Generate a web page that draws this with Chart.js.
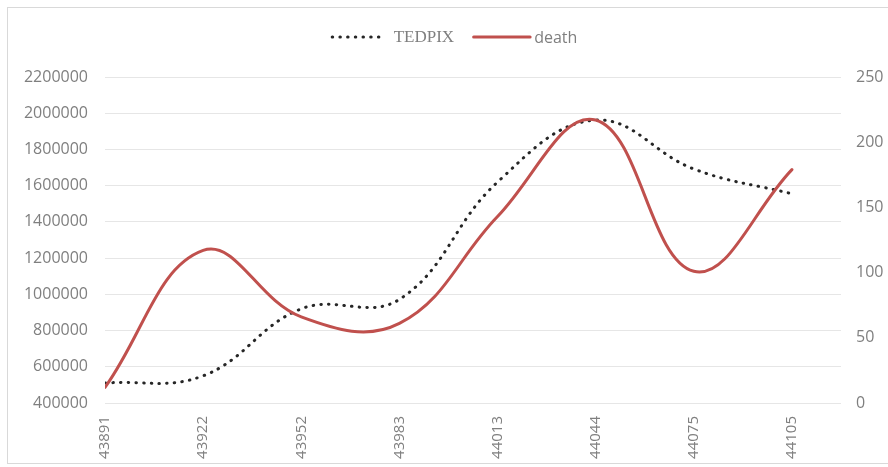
<!DOCTYPE html>
<html>
<head>
<meta charset="utf-8">
<script src="https://cdn.jsdelivr.net/npm/chart.js@4.4.1/dist/chart.umd.min.js"></script>
<style>
  html, body { margin: 0; padding: 0; background: #ffffff; overflow: hidden; }
  #frame { position: absolute; left: 7px; top: 7px; width: 892px; height: 455px; border: 1px solid #d9d9d9; background: #fff; }
</style>
</head>
<body>
<div id="frame"><canvas id="chart"></canvas></div>
<script>
// Month keys (spreadsheet serial dates) along the bottom axis
const categories = ['43891', '43922', '43952', '43983', '44013', '44044', '44075', '44105'];
// TEDPIX index level (left axis)
const tedpix = [510000, 550000, 920000, 972000, 1620000, 1962000, 1692000, 1555000];
// Deaths (right axis)
const death = [12, 117, 66, 61, 143, 217, 101, 179];
// Axis tick values
const leftTicks = [400000, 600000, 800000, 1000000, 1200000, 1400000, 1600000, 1800000, 2000000, 2200000];
const rightTicks = [0, 50, 100, 150, 200, 250];

const tickFont = { family: '"Open Sans", "Liberation Sans", sans-serif', size: 16 };
const tickColor = '#7f7f7f';
const legendFonts = ['17px "Liberation Serif", serif', '16px "Open Sans", sans-serif'];

// Legend drawn as line samples above the plot, centred on the canvas
const lineLegend = {
  id: 'lineLegend',
  afterDraw(chart) {
    const ctx = chart.ctx;
    const y = 29;
    const samples = [52, 58];
    const gaps = [11, 4];
    const spacing = 18;
    const items = chart.data.datasets.map((ds, i) => {
      ctx.font = legendFonts[i];
      return { ds, font: legendFonts[i], sample: samples[i], gap: gaps[i], tw: ctx.measureText(ds.label).width };
    });
    let total = 0;
    items.forEach((it, i) => { total += it.sample + it.gap + it.tw + (i < items.length - 1 ? spacing : 0); });
    let x = chart.width / 2 - total / 2;
    ctx.save();
    items.forEach(it => {
      ctx.beginPath();
      ctx.strokeStyle = it.ds.borderColor;
      ctx.lineWidth = it.ds.borderWidth;
      ctx.lineCap = it.ds.borderCapStyle || 'butt';
      ctx.setLineDash(it.ds.borderDash || []);
      ctx.moveTo(x + 1.5, y);
      ctx.lineTo(x + it.sample, y);
      ctx.stroke();
      ctx.setLineDash([]);
      ctx.font = it.font;
      ctx.fillStyle = tickColor;
      ctx.textBaseline = 'middle';
      ctx.textAlign = 'left';
      ctx.fillText(it.ds.label, x + it.sample + it.gap, y + 1);
      x += it.sample + it.gap + it.tw + spacing;
    });
    ctx.restore();
  }
};

new Chart(document.getElementById('chart'), {
  type: 'line',
  data: {
    datasets: [
      {
        label: 'TEDPIX',
        data: tedpix.map((v, i) => ({ x: i, y: v })),
        yAxisID: 'y',
        borderColor: '#262626',
        borderWidth: 3,
        borderDash: [0.5, 7.2],
        borderCapStyle: 'round',
        pointRadius: 0,
        tension: 0.4,
        fill: false,
        order: 1
      },
      {
        label: 'death',
        data: death.map((v, i) => ({ x: i, y: v })),
        yAxisID: 'y1',
        borderColor: '#c0504d',
        borderWidth: 3,
        borderCapStyle: 'round',
        pointRadius: 0,
        tension: 0.4,
        fill: false,
        order: 0
      }
    ]
  },
  options: {
    responsive: true,
    maintainAspectRatio: false,
    animation: false,
    layout: { padding: { top: 69, left: 0, right: 0, bottom: 0 } },
    plugins: { legend: { display: false }, tooltip: { enabled: false } },
    scales: {
      x: {
        type: 'linear',
        min: 0,
        max: 7.5,
        afterBuildTicks: s => { s.ticks = categories.map((_, i) => ({ value: i })); },
        afterFit: s => { s.height = 60; },
        ticks: {
          callback: v => categories[v],
          autoSkip: false,
          minRotation: 90,
          maxRotation: 90,
          padding: 5,
          font: { family: tickFont.family, size: 15 },
          color: tickColor
        },
        grid: { display: false },
        border: { display: false }
      },
      y: {
        position: 'left',
        min: 400000,
        max: 2200000,
        afterBuildTicks: s => { s.ticks = leftTicks.map(v => ({ value: v })); },
        afterFit: s => { s.width = 97; },
        ticks: { callback: v => String(v), padding: 17, font: tickFont, color: tickColor },
        grid: { color: '#e6e6e6', lineWidth: 1, drawTicks: false },
        border: { display: false }
      },
      y1: {
        position: 'right',
        min: 0,
        max: 250,
        afterBuildTicks: s => { s.ticks = rightTicks.map(v => ({ value: v })); },
        afterFit: s => { s.width = 59; },
        ticks: { callback: v => String(v), padding: 15, font: tickFont, color: tickColor },
        grid: { drawOnChartArea: false, drawTicks: false },
        border: { display: false }
      }
    }
  },
  plugins: [lineLegend]
});
</script>
</body>
</html>
